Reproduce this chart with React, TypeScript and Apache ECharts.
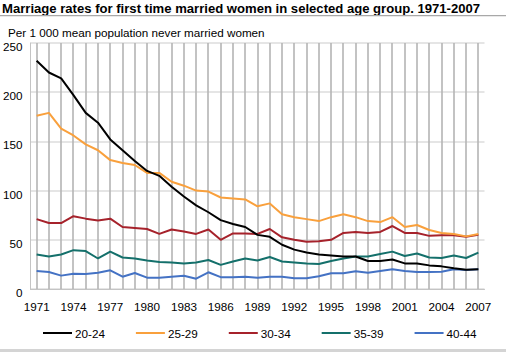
import React, { useEffect, useRef } from "react";
import * as echarts from "echarts";

const years: string[] = [];
for (let y = 1971; y <= 2007; y++) years.push(String(y));

const seriesNames = ["20-24", "25-29", "30-34", "35-39", "40-44"];
const colors = ["#000000", "#f9a03c", "#a6222b", "#14706b", "#4472c4"];

const a2024 = [232, 220, 214, 197, 179, 169, 152, 141, 130, 120, 115, 104, 94, 85, 78, 70, 66, 63, 55, 53, 45, 40, 37, 35, 34, 33, 33, 28.5, 28.5, 30, 26, 26, 24, 23, 21, 19.5, 20];
const a2529 = [176, 179, 163, 156, 147, 141, 131, 128, 126, 118, 118, 109, 105, 100, 99, 93, 92, 91, 84, 87, 76, 73, 71, 69, 73, 76, 73, 69, 68, 73, 63, 65, 60, 57, 56, 53.5, 56];
const a3034 = [71, 67, 67, 74, 71.5, 69.5, 71.5, 63, 62, 61, 56, 60.5, 58.5, 56, 60.5, 50, 56.5, 56.5, 56, 61, 52.5, 50, 48, 48.5, 50, 57, 58, 57, 58, 64, 57, 57, 54, 54.5, 54.5, 53, 55];
const a3539 = [35, 33, 35, 39.5, 38.5, 31, 38, 32, 31, 29, 27.5, 27, 26, 27, 29.5, 24.5, 28, 31, 29, 32.5, 28, 27, 26, 25.5, 28.5, 31, 33, 33, 35.5, 38, 33.5, 36, 32, 31.5, 34, 31.5, 37];
const a4044 = [18.3, 17.3, 13.6, 15.6, 15.2, 16.6, 19, 12.5, 16.3, 11.5, 11.5, 12.5, 13.5, 10.5, 17, 12, 12, 12.5, 11.5, 12.5, 12.5, 11, 11, 13, 16, 16, 18, 16.5, 18.3, 20, 18.3, 17.3, 17.3, 17.6, 20, 19.3, 20];

const allData = [a2024, a2529, a3034, a3539, a4044];
const zOrder = [6, 5, 4, 3, 2];

const Y_MIN = 0;
const Y_MAX = 250;
const Y_STEP = 50;

const titleText = "Marriage rates for first time married women in selected age group. 1971-2007";
const subtitleText = "Per 1 000 mean population never married women";

const FONT = "Liberation Sans";

export default function App() {
  const ref = useRef<HTMLDivElement>(null);
  useEffect(() => {
    if (!ref.current) return;
    const chart = echarts.init(ref.current, null, { renderer: "svg" });
    chart.setOption({
      animation: false,
      backgroundColor: "#ffffff",
      textStyle: { fontFamily: FONT },
      graphic: [
        {
          type: "text",
          x: 2,
          y: 8,
          style: {
            text: titleText,
            fontFamily: FONT,
            fontSize: 13.1,
            fontWeight: "bold",
            fill: "#000",
            verticalAlign: "middle",
          },
        },
        {
          type: "rect",
          shape: { x: 0, y: 15, width: 506, height: 1.2 },
          style: { fill: "#a8a8a8" },
        },
        {
          type: "text",
          x: 8,
          y: 32,
          style: { text: subtitleText, fontFamily: FONT, fontSize: 11.7, fill: "#000", verticalAlign: "middle" },
        },
        {
          type: "rect",
          shape: { x: 0, y: 349, width: 506, height: 3 },
          style: { fill: "#d4d4d4" },
        },
      ],
      grid: { left: 30.5, right: 21.5, top: 43, bottom: 63 },
      legend: {
        data: seriesNames,
        left: 43,
        top: 327,
        padding: 0,
        icon: "rect",
        itemWidth: 29,
        itemHeight: 2,
        itemGap: 31,
        textStyle: { fontSize: 11.7, color: "#000", fontFamily: FONT, padding: [0, 0, 0, -2] },
      },
      xAxis: {
        type: "category",
        data: years,
        boundaryGap: true,
        axisLine: { show: true, lineStyle: { color: "#c4c4c4", width: 1 } },
        axisTick: { show: false },
        axisLabel: { interval: 2, margin: 11, fontSize: 11.7, color: "#000", fontFamily: FONT },
        splitLine: { show: false },
      },
      yAxis: {
        type: "value",
        min: Y_MIN,
        max: Y_MAX,
        interval: Y_STEP,
        axisLine: { show: true, lineStyle: { color: "#c4c4c4", width: 1 } },
        axisTick: { show: false },
        axisLabel: {
          margin: 8,
          fontSize: 11.7,
          color: "#000",
          fontFamily: FONT,
          verticalAlign: "top",
          lineHeight: 7,
        },
        splitLine: { show: true, lineStyle: { color: "#dcdcdc", width: 1.5 } },
      },
      series: [
        {
          name: "vertical-grid",
          type: "custom",
          silent: true,
          z: 1,
          data: years.map((y, i) => [i]),
          encode: { x: 0 },
          renderItem: (params: any, api: any) => {
            const idx = api.value(0);
            const p0 = api.coord([idx, Y_MIN]);
            const p1 = api.coord([idx, Y_MAX]);
            const x = Math.round(p0[0]);
            return {
              type: "line",
              shape: { x1: x, y1: p1[1], x2: x, y2: p0[1] },
              style: { stroke: "#b4b4b4", lineWidth: 1.6 },
            };
          },
        },
        ...seriesNames.map((name, i) => ({
          name,
          type: "line",
          data: allData[i],
          symbol: "none",
          z: zOrder[i],
          color: colors[i],
          lineStyle: { color: colors[i], width: 2 },
        })),
      ],
    });
    return () => chart.dispose();
  }, []);
  return <div ref={ref} style={{ position: "fixed", left: 0, top: 0, width: 506, height: 352 }} />;
}
